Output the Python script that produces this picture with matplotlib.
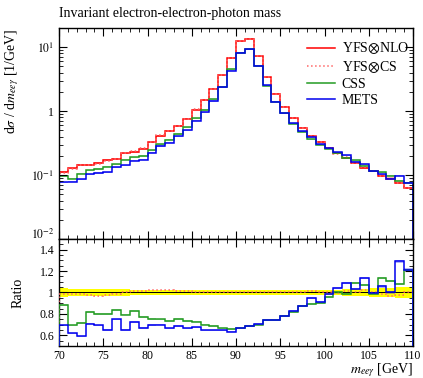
import numpy as np
import matplotlib
matplotlib.use("Agg")
import matplotlib.pyplot as plt
from matplotlib.lines import Line2D
from matplotlib.ticker import MultipleLocator, LogLocator, FixedLocator, FixedFormatter, NullFormatter

plt.rcParams['font.family'] = ['Liberation Serif', 'DejaVu Serif']
plt.rcParams['mathtext.fontset'] = 'stix'

# bin edges in GeV, 1 GeV bins from 70 to 110
edges = np.arange(70, 111, 1)

# YFS(x)NLO, reference, dsigma/dm [1/GeV]
yfs_nlo = [0.111, 0.127, 0.146, 0.146, 0.156, 0.170, 0.178, 0.218, 0.232, 0.259,
           0.324, 0.407, 0.487, 0.583, 0.76, 1.06, 1.49, 2.24, 3.65, 6.8,
           12.4, 13.6, 7.24, 3.4, 1.88, 1.18, 0.78, 0.55, 0.41, 0.33,
           0.268, 0.218, 0.187, 0.156, 0.130, 0.116, 0.097, 0.088, 0.076, 0.063]

# ratios to YFS(x)NLO
ratio_yfs_cs = [0.985, 0.99, 0.985, 0.975, 0.97, 0.975, 0.99, 1.0, 1.01, 1.01,
                1.02, 1.025, 1.02, 1.01, 1.01, 1.005, 1.005, 1.0, 1.0, 1.0,
                1.0, 1.0, 1.0, 1.0, 1.0, 1.0, 1.0, 1.005, 1.01, 1.0,
                1.0, 0.995, 1.01, 1.0, 1.02, 1.0, 0.985, 0.97, 0.975, 1.0]
ratio_css = [0.884, 0.692, 0.717, 0.821, 0.80, 0.80, 0.834, 0.793, 0.824, 0.768,
             0.755, 0.749, 0.733, 0.755, 0.733, 0.727, 0.70, 0.689, 0.664, 0.66,
             0.665, 0.685, 0.70, 0.74, 0.745, 0.78, 0.815, 0.87, 0.89, 0.905,
             0.96, 1.0, 0.99, 1.088, 1.07, 0.99, 1.136, 1.11, 1.08, 1.21]
ratio_mets = [0.692, 0.617, 0.589, 0.708, 0.692, 0.651, 0.749, 0.651, 0.724, 0.667,
              0.695, 0.70, 0.664, 0.689, 0.664, 0.673, 0.645, 0.645, 0.645, 0.635,
              0.664, 0.689, 0.705, 0.742, 0.742, 0.78, 0.827, 0.875, 0.947, 0.915,
              0.988, 1.04, 1.088, 1.032, 1.136, 0.994, 1.057, 1.0, 1.29, 1.214]

# relative uncertainty of the reference (yellow band)
ref_unc = [0.04, 0.035, 0.035, 0.035, 0.032, 0.035, 0.03, 0.03, 0.028, 0.028,
           0.026, 0.026, 0.025, 0.025, 0.024, 0.024, 0.022, 0.022, 0.02, 0.02,
           0.02, 0.02, 0.02, 0.02, 0.021, 0.021, 0.022, 0.022, 0.024, 0.025,
           0.026, 0.028, 0.03, 0.032, 0.035, 0.038, 0.042, 0.045, 0.048, 0.05]
mc_unc = 0.02

ref = np.array(yfs_nlo)
series = [
    ("YFS$\\otimes$NLO", np.ones(len(ref)), "#ff0000", "-"),
    ("YFS$\\otimes$CS", np.array(ratio_yfs_cs), "#ff6666", ":"),
    ("CSS", np.array(ratio_css), "#239b23", "-"),
    ("METS", np.array(ratio_mets), "#0000ee", "-"),
]
unc = np.array(ref_unc)


def band(a, lo, hi, col, alpha):
    # step-shaped band over the bins
    a.fill_between(edges, np.append(lo, lo[-1]), np.append(hi, hi[-1]),
                   step="post", color=col, alpha=alpha, lw=0)


fig = plt.figure(figsize=(4.23, 3.78), dpi=100)
ax = fig.add_axes([0.1395, 0.3677, 0.8369, 0.5582])
rax = fig.add_axes([0.1395, 0.0847, 0.8369, 0.2830])

for label, r, col, ls in series:
    vals = ref * r
    e = unc if label.startswith("YFS$\\otimes$N") else mc_unc
    if ls == "-":
        band(ax, vals * (1 - e), vals * (1 + e), col, 0.3)
    ax.stairs(vals, edges, color=col, lw=1.1, ls=ls)

ax.set_yscale("log")
ax.set_xlim(70, 110)
ax.set_ylim(1e-2, 20)
ax.yaxis.set_major_locator(FixedLocator([1e-2, 1e-1, 1, 10]))
ax.yaxis.set_major_formatter(FixedFormatter(["$10^{-2}$", "$10^{-1}$", "1", "$10^{1}$"]))
ax.yaxis.set_minor_locator(LogLocator(base=10, subs=np.arange(2, 10)))
ax.yaxis.set_minor_formatter(NullFormatter())
ax.xaxis.set_major_locator(MultipleLocator(5))
ax.xaxis.set_minor_locator(MultipleLocator(1))
ax.tick_params(labelbottom=False)
ax.set_ylabel("d$\\sigma$ / d$m_{ee\\gamma}$ [1/GeV]", fontsize=10, loc="top")
ax.yaxis.set_label_coords(-0.108, 1.0)

# ratio panel
band(rax, 1 - unc, 1 + unc, "#ffff00", 1.0)
rax.axhline(1, color="black", lw=0.7, zorder=2.5)
for label, r, col, ls in series[1:]:
    if ls == "-":
        band(rax, r * (1 - mc_unc / 2), r * (1 + mc_unc / 2), col, 0.3)
    rax.stairs(r, edges, color=col, lw=1.1, ls=ls, zorder=3)
rax.set_xlim(70, 110)
rax.set_ylim(0.5, 1.5)
rax.yaxis.set_major_locator(FixedLocator([0.6, 0.8, 1.0, 1.2, 1.4]))
rax.yaxis.set_major_formatter(FixedFormatter(["0.6", "0.8", "1", "1.2", "1.4"]))
rax.yaxis.set_minor_locator(MultipleLocator(0.05))
rax.xaxis.set_major_locator(MultipleLocator(5))
rax.xaxis.set_minor_locator(MultipleLocator(1))
rax.set_ylabel("Ratio", fontsize=10)
rax.yaxis.set_label_coords(-0.098, 0.5)
rax.set_xlabel("$m_{ee\\gamma}$ [GeV]", fontsize=10)
rax.xaxis.set_label_coords(1.0, -0.258)
rax.xaxis.label.set_horizontalalignment("right")
rax.xaxis.label.set_verticalalignment("baseline")

for a in (ax, rax):
    a.tick_params(which="both", direction="in", top=True, right=True, labelsize=8.5)
    a.tick_params(which="major", length=6, width=0.8)
    a.tick_params(which="minor", length=3, width=0.6)
    for s in a.spines.values():
        s.set_linewidth(1.0)
rax.tick_params(axis="x", pad=3)

# lift the lowest main-panel label a little so it clears the ratio labels
for t in ax.get_yticklabels():
    if t.get_text() == "$10^{-2}$":
        t.set_verticalalignment("baseline")

handles = [Line2D([], [], color=col, ls=ls, lw=1.1) for _, _, col, ls in series]
ax.legend(handles, [s[0] for s in series], loc="upper left", frameon=False,
          bbox_to_anchor=(0.726, 0.893), bbox_transform=fig.transFigure,
          borderpad=0, borderaxespad=0, handlelength=2.0, handletextpad=0.5,
          labelspacing=0.2, fontsize=10)

fig.text(59 / 423, 1 - 14 / 378, "Invariant electron-electron-photon mass",
         ha="left", va="center", fontsize=10)

fig.savefig("out.png", dpi=100)
